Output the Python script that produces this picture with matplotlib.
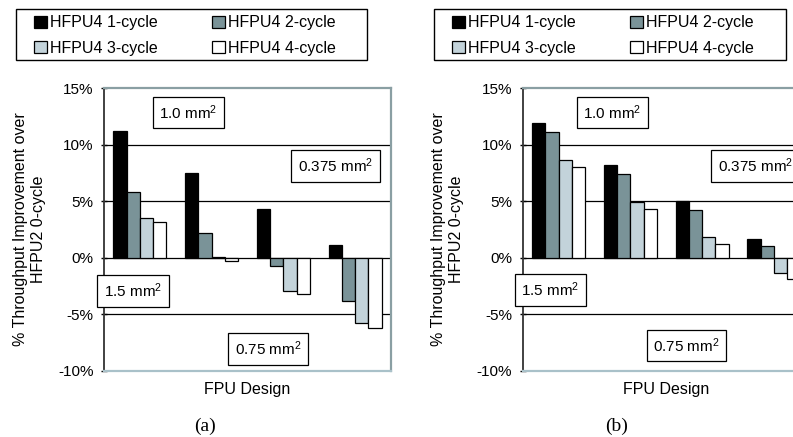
import numpy as np
import matplotlib
matplotlib.use("Agg")
from matplotlib import pyplot as plt
from matplotlib.patches import Patch, Rectangle

plt.rcParams['font.family'] = ['Liberation Sans', 'DejaVu Sans']
plt.rcParams['mathtext.default'] = 'regular'

##### data #####
series = ["HFPU4 1-cycle", "HFPU4 2-cycle", "HFPU4 3-cycle", "HFPU4 4-cycle"]
colors = ["#000000", "#7a9398", "#c3d3da", "#ffffff"]
groups = 4  # FPU designs, 1.5 / 1.0 / 0.75 / 0.375 mm^2

vals_a = [
    [11.2, 7.5, 4.3, 1.1],     # 1-cycle
    [5.8, 2.2, -0.7, -3.8],    # 2-cycle
    [3.5, 0.1, -2.9, -5.8],    # 3-cycle
    [3.2, -0.3, -3.2, -6.2],   # 4-cycle
]
vals_b = [
    [11.9, 8.2, 5.0, 1.7],
    [11.1, 7.4, 4.2, 1.0],
    [8.6, 4.9, 1.8, -1.3],
    [8.0, 4.3, 1.2, -1.9],
]
yticks = [-10, -5, 0, 5, 10, 15]
ylabel = "% Throughput Improvement over\nHFPU2 0-cycle"
xlabel = "FPU Design"
area_labels = ["1.0 mm$^2$", "0.375 mm$^2$", "1.5 mm$^2$", "0.75 mm$^2$"]
panel_labels = ["(a)", "(b)"]

W, H = 793, 437
fig = plt.figure(figsize=(W/100, H/100), dpi=100)

def px(x, y):
    # pixel position -> figure fraction
    return x / W, 1 - y / H

ax_left_px = [104, 522.7]
ax_w_px = 287
ax_top_px, ax_bot_px = 88, 371

# annotation boxes: (left px, center y px) per panel
box_pos = [
    [(153.7, 112.7), (292.3, 166), (98.3, 290.8), (229.3, 349)],
    [(577.7, 112.5), (712.3, 166), (515.7, 290), (647.7, 345.5)],
]
ylab_x = [30, 447]
panel_xy = [(205, 426), (617, 426)]
legend_box = [(16, 8.7, 367, 60.3), (434.3, 8.7, 786, 60.3)]

bw = 0.185
x = np.arange(groups)
order = [0, 2, 1, 3]  # row-wise legend filling

for p, vals in enumerate([vals_a, vals_b]):
    x0, y0 = px(ax_left_px[p], ax_bot_px)
    ax = fig.add_axes([x0, y0, ax_w_px / W, (ax_bot_px - ax_top_px) / H])
    for i in range(4):
        ax.bar(x + (i - 1.5) * bw, vals[i], bw, color=colors[i],
               edgecolor="black", linewidth=0.9, zorder=3)
    ax.set_xlim(-0.5, groups - 0.5)
    ax.set_ylim(-10, 15)
    ax.set_yticks(yticks)
    ax.set_yticklabels(["%d%%" % v for v in yticks], fontsize=11)
    ax.set_xticks([])
    for g in [-5, 0, 5, 10]:
        ax.axhline(g, color="black", lw=0.9, zorder=2)
    ax.spines['left'].set_color("#333333")
    ax.spines['left'].set_linewidth(1.3)
    ax.spines['top'].set_color("#8a9fa3")
    ax.spines['right'].set_color("#8a9fa3")
    ax.spines['top'].set_linewidth(1.6)
    ax.spines['right'].set_linewidth(1.6)
    ax.spines['bottom'].set_color("#a9c1c9")
    ax.spines['bottom'].set_linewidth(1.6)
    ax.tick_params(axis='y', direction='inout', length=5, width=1, pad=5, colors="black")
    ax.set_xlabel(xlabel, fontsize=11.5, labelpad=8)

    fx, fy = px(ylab_x[p], (ax_top_px + ax_bot_px) / 2)
    fig.text(fx, fy, ylabel, rotation=90, ha="center", va="center",
             multialignment="center", fontsize=11.5, linespacing=1.25)

    for lab, (bx, by) in zip(area_labels, box_pos[p]):
        fx, fy = px(bx + 5.5, by)
        fig.text(fx, fy, lab, ha="left", va="center", fontsize=11, zorder=10,
                 bbox=dict(boxstyle="square,pad=0.42", fc="white", ec="black", lw=0.9))

    fx, fy = px(*panel_xy[p])
    fig.text(fx, fy, panel_labels[p], ha="center", va="center",
             family="Liberation Serif", fontsize=14)

    # legend frame drawn by hand, entries by fig.legend
    lx0, ly0, lx1, ly1 = legend_box[p]
    bx0, by1 = px(lx0, ly0)
    bx1, by0 = px(lx1, ly1)
    fig.add_artist(Rectangle((bx0, by0), bx1 - bx0, by1 - by0, transform=fig.transFigure,
                             fc="white", ec="black", lw=1.0, zorder=1))
    handles = [Patch(facecolor=colors[i], edgecolor="black", linewidth=0.9) for i in order]
    labels = [series[i] for i in order]
    ax_anchor = px(lx0 + 18, ly0 + 6.5)
    fig.legend(handles, labels, ncol=2, loc="upper left", bbox_to_anchor=ax_anchor,
               frameon=False, fontsize=11.5, handlelength=0.8, handleheight=0.8,
               handletextpad=0.2, borderaxespad=0, borderpad=0, labelspacing=0.65,
               columnspacing=3.4)

fig.savefig("out.png", dpi=100)
